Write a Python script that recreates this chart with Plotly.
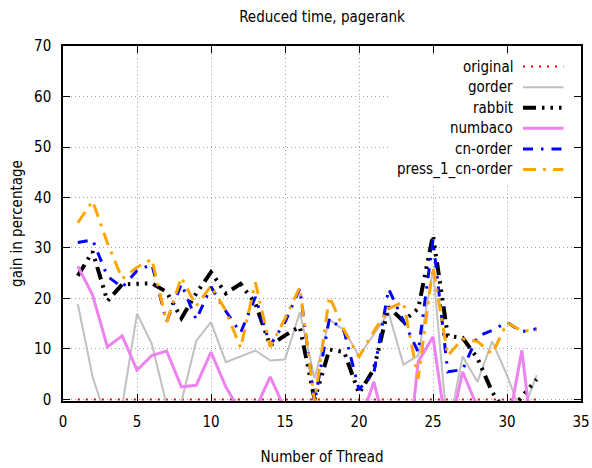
import plotly.graph_objects as go

# Thread counts on the x axis
threads = [1, 2, 3, 4, 5, 6, 7, 8, 9, 10, 11, 12, 13, 14, 15, 16,
           17, 18, 19, 20, 21, 22, 23, 24, 25, 26, 27, 28, 29, 30, 31, 32]

# Gain in percentage per ordering (values below 0 fall outside the y range)
original = [0, 0, 0, 0, 0, 0, 0, 0, 0, 0, 0, 0, 0, 0, 0, 0,
            0, 0, 0, 0, 0, 0, 0, 0, 0, 0, 0, 0, 0, 0, 0, 0]
gorder = [18.9, 4.5, -4.5, -1.3, 17.0, 11.0, -1.0, -0.5, 11.6, 15.3, 7.4, 8.5,
          9.7, 7.7, 7.9, 17.3, 4.2, 15.8, 13.7, 8.6, 13.0, 17.2, 6.9, 8.7,
          25.8, -6.5, 8.5, 3.5, 11.5, 4.8, -3.0, 4.8]
rabbit = [24.5, 29.3, 19.5, 22.8, 22.9, 23.0, 21.3, 16.1, 21.0, 25.2, 21.0, 22.9,
          19.0, 10.7, 12.7, 14.4, 0.0, 9.9, 9.4, 1.2, 6.0, 18.3, 15.5, 18.0,
          32.5, 12.6, 12.2, 8.2, 1.5, -3.0, 0.5, 4.0]
numbaco = [26.4, 20.7, 10.4, 12.6, 5.8, 8.7, 9.6, 2.5, 2.8, 9.4, 2.5, -2.5,
           -1.9, 4.5, -1.9, -4.0, -6.0, -5.0, -6.0, -5.3, 3.5, -8.0, -20.0, 7.5,
           12.4, -8.0, 5.5, -1.5, -4.0, -6.5, 9.7, -14.5]
cn_order = [31.1, 31.6, 24.4, 22.2, 25.5, 26.8, 15.4, 22.9, 15.8, 22.3, 17.5, 13.2,
            20.3, 10.7, 15.3, 22.0, -0.5, 16.1, 13.5, 2.0, 5.2, 21.9, 15.6, 9.4,
            31.6, 5.5, 5.9, 12.5, 13.7, 15.3, 13.4, 14.0]
press_1_cn_order = [35.0, 39.3, 31.0, 23.9, 26.2, 27.8, 15.3, 24.2, 18.5, 22.5, 17.6, 10.2,
                    23.2, 10.4, 16.0, 22.2, -0.5, 20.4, 13.7, 8.4, 13.5, 18.0, 19.3, 4.1,
                    26.3, 8.7, 12.0, 11.5, 9.0, 15.2, 13.6, 13.7]

series_names = ["original", "gorder", "rabbit", "numbaco", "cn-order", "press_1_cn-order"]
series_values = [original, gorder, rabbit, numbaco, cn_order, press_1_cn_order]
series_colors = ["#ff0000", "#c0c0c0", "#000000", "#ee82ee", "#0000ff", "#ffa500"]
series_widths = [2, 2, 4, 3, 3, 3]
series_dashes = ["2px,6px", "solid", "13px,6px,2.5px,6px,2.5px,6px,2.5px,6px",
                 "solid", "10px,8px,2.5px,8px", "13px,7px,3px,7px"]

FONT = "DejaVu Sans Condensed, Liberation Sans Narrow, DejaVu Sans, sans-serif"
FS = 15

fig = go.Figure()
for name, vals, col, w, dash in zip(series_names, series_values, series_colors,
                                    series_widths, series_dashes):
    fig.add_trace(go.Scatter(x=threads, y=vals, mode="lines", name=name,
                             line=dict(color=col, width=w, dash=dash),
                             showlegend=False))

# Key in the upper right: white box, right-aligned labels, then line samples
fig.add_shape(type="rect", xref="paper", yref="paper",
              x0=0.63, x1=0.984, y0=0.615, y1=0.972,
              fillcolor="white", line=dict(width=0), layer="above")
row0, row_step = 0.942, 0.058
for i, (name, col, w, dash) in enumerate(zip(series_names, series_colors,
                                             series_widths, series_dashes)):
    yy = row0 - i * row_step
    fig.add_annotation(xref="paper", yref="paper", x=0.872, y=yy,
                       text=name, showarrow=False, xanchor="right", yanchor="middle",
                       font=dict(family=FONT, size=FS, color="black"))
    fig.add_shape(type="line", xref="paper", yref="paper",
                  x0=0.888, x1=0.966, y0=yy, y1=yy,
                  line=dict(color=col, width=w, dash=dash), layer="above")

axis_common = dict(showline=True, linecolor="black", linewidth=1.5, mirror="ticks",
                   ticks="inside", ticklen=7, tickwidth=1, tickcolor="black",
                   showgrid=True, gridcolor="#a0a0a0", gridwidth=1, griddash="1px,3px",
                   zeroline=False, automargin=False,
                   tickfont=dict(family=FONT, size=FS, color="black"))

fig.update_layout(
    width=592, height=468,
    margin=dict(l=63, r=11, t=46, b=67),
    paper_bgcolor="white", plot_bgcolor="white",
    font=dict(family=FONT, size=FS, color="black"),
    title=dict(text="Reduced time, pagerank", x=0.5, xref="paper",
               y=1 - 17 / 468, yref="container", yanchor="middle",
               font=dict(family=FONT, size=FS, color="black")),
    xaxis=dict(range=[0, 35], tick0=0, dtick=5, ticklabelstandoff=6,
               title=dict(text="Number of Thread", standoff=22,
                          font=dict(family=FONT, size=FS, color="black")),
               **axis_common),
    yaxis=dict(range=[-0.3, 70], tick0=0, dtick=10, ticklabelstandoff=7,
               title=dict(text="gain in percentage", standoff=8,
                          font=dict(family=FONT, size=FS, color="black")),
               **axis_common),
)

fig.write_html("out.html")
